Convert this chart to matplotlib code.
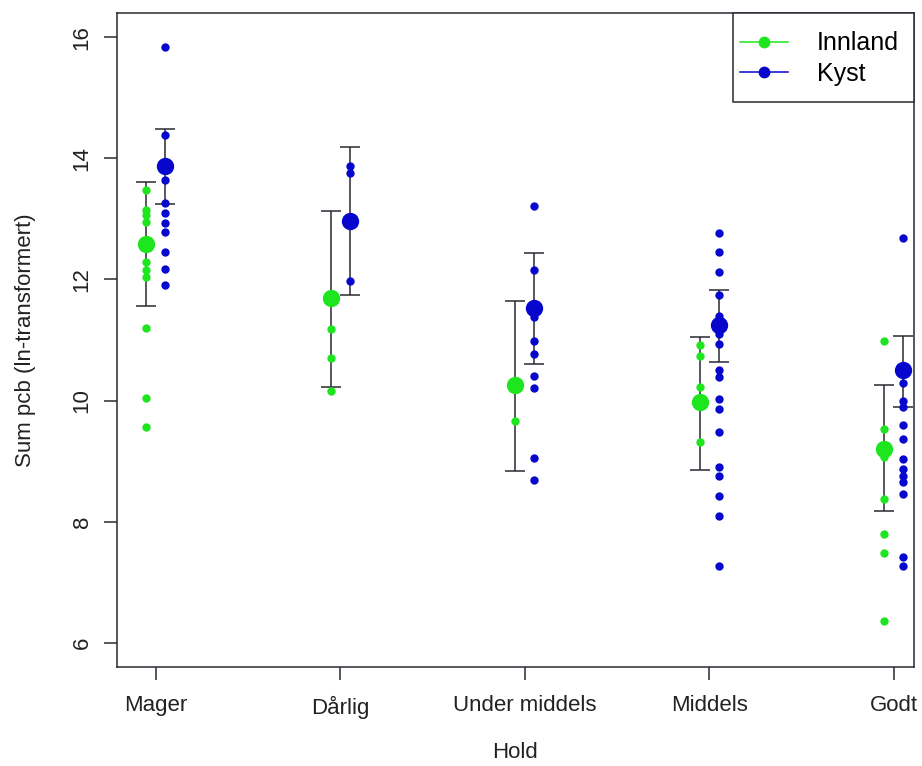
import matplotlib
matplotlib.use('Agg')
import matplotlib.pyplot as plt
from matplotlib.lines import Line2D
from matplotlib.patches import Rectangle

plt.rcParams['font.family'] = ['Liberation Sans', 'DejaVu Sans']

hold = ['Mager', 'Dårlig', 'Under middels', 'Middels', 'Godt']

innland_pts = [
    [13.47, 13.14, 13.06, 12.95, 12.29, 12.16, 12.04, 11.19, 10.05, 9.56],
    [11.18, 10.70, 10.15],
    [9.66],
    [10.91, 10.73, 10.22, 9.31],
    [10.99, 9.53, 9.06, 8.38, 7.80, 7.49, 6.36],
]
kyst_pts = [
    [15.84, 14.39, 13.64, 13.26, 13.10, 12.93, 12.78, 12.45, 12.17, 11.90],
    [13.87, 13.76, 11.97],
    [13.21, 12.15, 11.60, 11.38, 10.98, 10.77, 10.40, 10.20, 9.05, 8.68],
    [12.77, 12.45, 12.13, 11.74, 11.40, 11.30, 11.10, 10.93, 10.50, 10.39,
     10.03, 9.86, 9.48, 8.90, 8.76, 8.43, 8.10, 7.27],
    [12.69, 10.29, 10.00, 9.89, 9.60, 9.37, 9.04, 8.87, 8.76, 8.65, 8.46,
     7.41, 7.27],
]

# group means with interval limits
innland_mean = [12.59, 11.69, 10.25, 9.97, 9.20]
innland_lo = [11.56, 10.22, 8.83, 8.85, 8.17]
innland_hi = [13.61, 13.13, 11.64, 11.05, 10.25]
kyst_mean = [13.87, 12.96, 11.53, 11.24, 10.50]
kyst_lo = [13.24, 11.75, 10.60, 10.63, 9.89]
kyst_hi = [14.48, 14.18, 12.43, 11.82, 11.07]

green = '#1ee61e'
blue = '#0606cc'
dark = '#2a2a33'
off = 0.051

fig = plt.figure(figsize=(9.22, 7.66), dpi=100)
ax = fig.add_axes([117 / 922, 1 - 667 / 766, (914 - 117) / 922, (667 - 13) / 766])

xpos = list(range(1, len(hold) + 1))
for i, x in enumerate(xpos):
    for pts, mean, lo, hi, col, dx in [
        (innland_pts[i], innland_mean[i], innland_lo[i], innland_hi[i], green, -off),
        (kyst_pts[i], kyst_mean[i], kyst_lo[i], kyst_hi[i], blue, off),
    ]:
        ax.errorbar([x + dx], [mean], yerr=[[mean - lo], [hi - mean]], fmt='none',
                    ecolor=dark, elinewidth=1.1, capsize=7.5, capthick=1.1, zorder=2)
        ax.plot([x + dx] * len(pts), pts, 'o', color=col, ms=6, mew=0, zorder=3)
        ax.plot([x + dx], [mean], 'o', color=col, ms=12.5, mew=0, zorder=4)

ax.set_xlim(0.79, 5.11)
ax.set_ylim(5.6, 16.4)
ax.set_xticks(xpos)
ax.set_xticklabels(hold)
ax.set_yticks([6, 8, 10, 12, 14, 16])
for lab in ax.get_yticklabels():
    lab.set_rotation(90)
    lab.set_va('center')

for s in ax.spines.values():
    s.set_color(dark)
    s.set_linewidth(1.1)
ax.tick_params(direction='out', length=9.5, width=1.1, color=dark,
               labelsize=16, labelcolor='#222222')
ax.tick_params(axis='y', pad=8)
ax.tick_params(axis='x', pad=11)

ax.set_xlabel('Hold', fontsize=16, color='#222222', labelpad=17)
ax.set_ylabel('Sum pcb (ln-transformert)', fontsize=16, color='#222222', labelpad=26)

# legend box drawn separately, R style
ax.add_patch(Rectangle((0.773, 0.864), 0.227, 0.136, transform=ax.transAxes,
                       facecolor='white', edgecolor=dark, lw=1.1, zorder=5, clip_on=False))
handles = [
    Line2D([], [], color=green, marker='o', ms=8.5, mew=0, lw=1.1),
    Line2D([], [], color=blue, marker='o', ms=8.5, mew=0, lw=1.1),
]
leg = ax.legend(handles, ['Innland', 'Kyst'], loc='upper left',
                bbox_to_anchor=(0.7817, 0.972), borderaxespad=0, borderpad=0,
                fontsize=18, frameon=False, handlelength=1.92, handletextpad=1.16,
                labelspacing=0.27)
leg.set_zorder(6)

fig.savefig('out.png', dpi=100)
